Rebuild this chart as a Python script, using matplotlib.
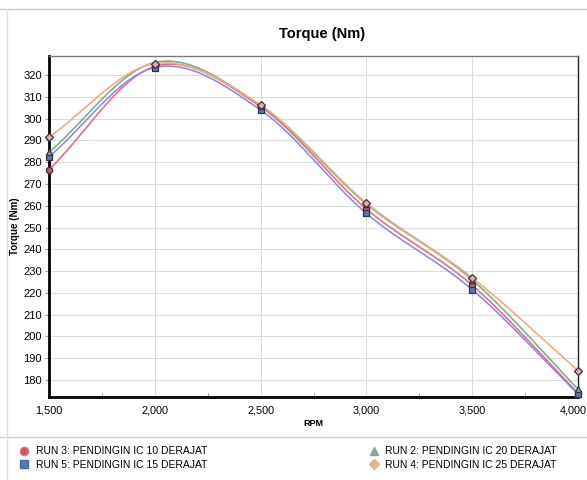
import numpy as np
import matplotlib
matplotlib.use("Agg")
import matplotlib.pyplot as plt
import matplotlib.transforms as mtrans
from matplotlib.lines import Line2D
from matplotlib.ticker import FuncFormatter, MultipleLocator

plt.rcParams["font.family"] = ["Liberation Sans", "DejaVu Sans"]

# data (torque in Nm at each rpm)
rpm = [1500, 2000, 2500, 3000, 3500, 4000]
run3 = [276.5, 324.0, 305.5, 258.5, 223.5, 174.0]   # pendingin 10
run5 = [282.5, 323.5, 304.0, 256.5, 221.5, 173.5]   # pendingin 15
run2 = [284.5, 325.8, 306.0, 260.8, 226.0, 175.8]   # pendingin 20
run4 = [291.5, 325.3, 306.3, 261.3, 227.0, 184.3]   # pendingin 25
yticks = list(range(180, 330, 10))
xticks = [1500, 2000, 2500, 3000, 3500, 4000]


def smooth(x, y, n=30):
    # Catmull-Rom style smoothing, like the "smoothed line" option of the original chart
    x = np.asarray(x, float); y = np.asarray(y, float)
    m = np.empty_like(y)
    m[1:-1] = (y[2:] - y[:-2]) / 2
    m[0] = y[1] - y[0]; m[-1] = y[-1] - y[-2]
    xs, ys = [], []
    for i in range(len(x) - 1):
        t = np.linspace(0, 1, n, endpoint=(i == len(x) - 2))
        h00 = 2*t**3 - 3*t**2 + 1; h10 = t**3 - 2*t**2 + t
        h01 = -2*t**3 + 3*t**2; h11 = t**3 - t**2
        xs.append(x[i] + t*(x[i+1] - x[i]))
        ys.append(h00*y[i] + h10*m[i] + h01*y[i+1] + h11*m[i+1])
    return np.concatenate(xs), np.concatenate(ys)


series = [
    # label, values, line colour, marker, marker face
    ("RUN 3: PENDINGIN IC 10 DERAJAT", run3, "#e8707e", "o", "#c85868"),
    ("RUN 5: PENDINGIN IC 15 DERAJAT", run5, "#8a8ee0", "s", "#5a78b8"),
    ("RUN 2: PENDINGIN IC 20 DERAJAT", run2, "#78b090", "^", "#9aa0a8"),
    ("RUN 4: PENDINGIN IC 25 DERAJAT", run4, "#f2aa80", "D", "#e0b0a0"),
]

fig = plt.figure(figsize=(5.87, 4.80), dpi=100)
ax = fig.add_axes([49/587, 0.173, 529/587, 0.7104])

handles = {}
for lab, vals, lc, mk, mf in series:
    sx, sy = smooth(rpm, vals)
    ax.plot(sx, sy, color=lc, lw=1.2, zorder=3)
    ms = 4.5 if mk != "D" else 3.6
    ax.plot(rpm, vals, ls="none", marker=mk, ms=ms, mfc=mf, mec="#3a3040",
            mew=0.9, zorder=4, clip_on=False)
    handles[lab] = Line2D([], [], ls="none", marker=mk, ms=6 if mk != "D" else 5,
                          mfc=mf, mec=lc if mk in "o^D" else "#4a68a8", mew=1.0)

ax.set_xlim(1500, 4000)
ax.set_ylim(172.2, 328.8)
ax.set_xticks(xticks)
ax.xaxis.set_minor_locator(MultipleLocator(250))
ax.set_yticks(yticks)
ax.xaxis.set_major_formatter(FuncFormatter(lambda v, p: f"{int(v):,}"))
ax.tick_params(axis="both", labelsize=8, length=3, width=0.6, color="#888888")
ax.tick_params(axis="y", pad=2)
ax.tick_params(axis="x", which="major", length=0, pad=6, labelsize=7.8)
ax.tick_params(axis="x", which="minor", direction="in", length=3, color="#888888")
ax.grid(True, color="#dcdce0", lw=0.8)
ax.set_axisbelow(True)
for s in ["left", "bottom"]:
    ax.spines[s].set_linewidth(2.0); ax.spines[s].set_color("black")
ax.spines["right"].set_linewidth(1.0); ax.spines["right"].set_color("#222222")
ax.spines["top"].set_linewidth(1.0); ax.spines["top"].set_color("#777777")

# last x label sits against the right edge, as in the original
last = ax.get_xticklabels()[-1]
last.set_ha("right")
last.set_transform(last.get_transform() + mtrans.ScaledTranslation(9/100, 0, fig.dpi_scale_trans))

ax.set_xlabel("RPM", fontsize=6.5, fontweight="bold", labelpad=3)
ax.set_ylabel("Torque (Nm)", fontsize=7, fontweight="bold")
ax.yaxis.set_label_coords(-0.055, 0.5)
fig.text(0.549, 0.930, "Torque (Nm)", ha="center", va="center",
         fontsize=10.5, fontweight="bold")

# chart frame and legend separator
fig.add_artist(Line2D([0.0, 1.0], [1 - 9/480, 1 - 9/480], color="#c8c8c8", lw=1))
fig.add_artist(Line2D([0.0, 1.0], [1 - 437/480, 1 - 437/480], color="#d0d0d0", lw=1))
fig.add_artist(Line2D([7/587, 7/587], [0.0, 1 - 9/480], color="#e0e0e0", lw=1))

labs = [s[0] for s in series]
leg1 = fig.legend([handles[labs[0]], handles[labs[1]]], labs[:2], loc="upper left",
                  bbox_to_anchor=(0.015, 1 - 437/480), frameon=False, fontsize=7.5,
                  handletextpad=0.5, labelspacing=0.35, handlelength=1.2)
leg2 = fig.legend([handles[labs[2]], handles[labs[3]]], labs[2:], loc="upper left",
                  bbox_to_anchor=(0.61, 1 - 437/480), frameon=False, fontsize=7.5,
                  handletextpad=0.5, labelspacing=0.35, handlelength=1.2)

fig.savefig("out.png", dpi=100)
